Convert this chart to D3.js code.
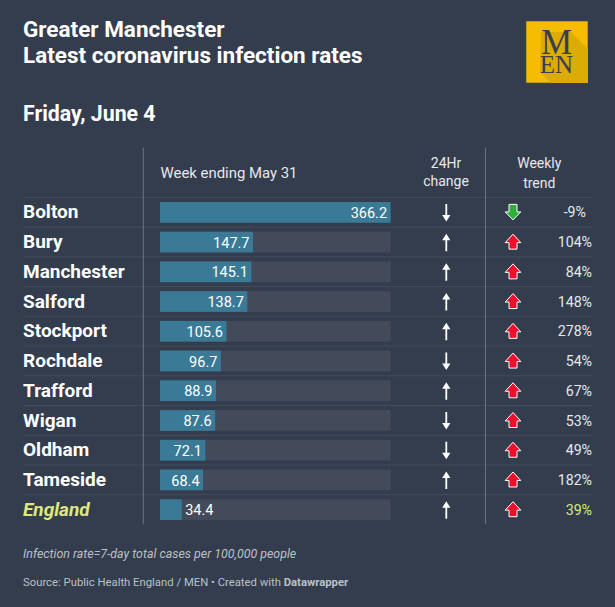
<!DOCTYPE html>
<html><head><meta charset="utf-8">
<script src="https://cdn.jsdelivr.net/npm/d3@7"></script>
<style>
html,body{margin:0;padding:0;background:#333d4e;}
svg{display:block;font-family:Roboto,sans-serif;}
</style></head><body>
<svg id="c" width="615" height="607"></svg>
<script>
const areas=["Bolton","Bury","Manchester","Salford","Stockport","Rochdale","Trafford","Wigan","Oldham","Tameside","England"];
const rates=[366.2,147.7,145.1,138.7,105.6,96.7,88.9,87.6,72.1,68.4,34.4];
const dayChange=["down","up","up","up","up","down","up","down","down","up","up"];
const weeklyTrend=[-9,104,84,148,278,54,67,53,49,182,39];
const titleLines=["Greater Manchester","Latest coronavirus infection rates"];
const dateLine="Friday, June 4";

const svg=d3.select("#c");
const bg="#333d4e",white="#ffffff",soft="#e6e8ea",green="#dfe77e";
svg.append("rect").attr("width",615).attr("height",607).attr("fill",bg);

svg.selectAll("text.title").data(titleLines).join("text").attr("class","title")
 .attr("x",23).attr("y",(d,i)=>37+i*26).attr("fill",white).attr("font-size",22.5).attr("font-weight",700).text(d=>d);
svg.append("text").attr("x",23).attr("y",121).attr("fill",white).attr("font-size",21.3).attr("font-weight",700).text(dateLine);

// logo
const logo=svg.append("g");
logo.append("rect").attr("x",526).attr("y",21).attr("width",62).attr("height",62).attr("fill","#f6bd00").attr("stroke","#3a4660").attr("stroke-width",.6);
logo.append("path").attr("d","M571 32 L588 49 V83 H551 L540 72 L541 32Z").attr("fill","#dcab06");
logo.append("text").attr("x",556.5).attr("y",54).attr("text-anchor","middle").attr("font-family","Liberation Serif").attr("font-size",35).attr("fill","#38404f").text("M");
logo.append("text").attr("x",556.5).attr("y",73).attr("text-anchor","middle").attr("font-family","Liberation Serif").attr("font-size",25).attr("fill","#38404f").text("EN");

const y=d3.scaleBand().domain(areas).range([197.4,197.4+29.73*11]);
const x=d3.scaleLinear().domain([0,366.2]).range([160,390.6]);

// row rules
svg.selectAll("line.row").data(areas.slice(0,-1).concat(["__top"])).join("line").attr("class","row")
 .attr("x1",23).attr("x2",592)
 .attr("y1",d=>d==="__top"?197.4:y(d)+y.bandwidth()).attr("y2",d=>d==="__top"?197.4:y(d)+y.bandwidth())
 .attr("stroke","#434c5c").attr("stroke-width",1);
// column rules
svg.selectAll("line.col").data([143.3,485.5]).join("line").attr("class","col")
 .attr("x1",d=>d).attr("x2",d=>d).attr("y1",147.5).attr("y2",524)
 .attr("stroke","#6d7480").attr("stroke-width",1);

// headers
const hdr=(xp,yp,t,a,fs)=>svg.append("text").attr("x",xp).attr("y",yp).attr("text-anchor",a||"middle").attr("fill",soft).attr("font-size",fs||14).text(t);
hdr(160.5,178,"Week ending May 31","start",14.9);
hdr(446,168,"24Hr");hdr(446,186,"change");
hdr(539.3,168,"Weekly");hdr(539.3,188,"trend");

const rows=svg.selectAll("g.r").data(areas).join("g").attr("class","r")
 .attr("transform",d=>`translate(0,${y(d)})`);
rows.append("text").attr("x",23).attr("y",21).attr("font-size",19).attr("font-weight",700)
 .attr("font-style",d=>d==="England"?"italic":null)
 .attr("fill",d=>d==="England"?green:white).text(d=>d);
rows.append("rect").attr("x",160).attr("y",4.6).attr("width",230.6).attr("height",20.7).attr("fill","#434b5a");
rows.append("rect").attr("x",160).attr("y",4.6).attr("width",(d,i)=>x(rates[i])-160).attr("height",20.7).attr("fill","#3a7a96");
rows.append("text").attr("y",20.6).attr("font-size",14.5).attr("fill",white)
 .attr("x",(d,i)=>i===10?x(rates[i])+3.5:x(rates[i])-3.5)
 .attr("text-anchor",(d,i)=>i===10?"start":"end").text((d,i)=>rates[i].toFixed(1));

// thin 24hr arrow
rows.append("path").attr("fill",white).attr("d",(d,i)=>dayChange[i]==="up"
 ?"M446.3 6.5 L450.4 13 H447.2 V24 H445.4 V13 H442.2Z"
 :"M446.3 24 L450.4 17.5 H447.2 V6.5 H445.4 V17.5 H442.2Z");
// block weekly arrow
rows.append("path").attr("stroke",white).attr("stroke-width",1).attr("stroke-linejoin","round")
 .attr("fill",(d,i)=>weeklyTrend[i]<0?"#2fae3c":"#ee0f2c")
 .attr("d",(d,i)=>weeklyTrend[i]<0
 ?"M509 7 H517 V14.5 H520.8 L513 22.5 L505.2 14.5 H509Z"
 :"M509 22 H517 V15.5 H520.8 L513 7 L505.2 15.5 H509Z");
rows.append("text").attr("x",(d,i)=>weeklyTrend[i]<0?586:592).attr("y",20).attr("text-anchor","end").attr("font-size",14.2)
 .attr("fill",d=>d==="England"?green:soft).text((d,i)=>weeklyTrend[i]+"%");

svg.append("text").attr("x",23).attr("y",558).attr("font-size",12.4).attr("font-style","italic").attr("fill","#bcc0c6").text("Infection rate=7-day total cases per 100,000 people");
const s=svg.append("text").attr("x",23).attr("y",586).attr("font-size",11.3).attr("fill","#bcc0c6");
s.append("tspan").text("Source: Public Health England / MEN • Created with ");
s.append("tspan").attr("font-weight",700).text("Datawrapper");
</script></body></html>
